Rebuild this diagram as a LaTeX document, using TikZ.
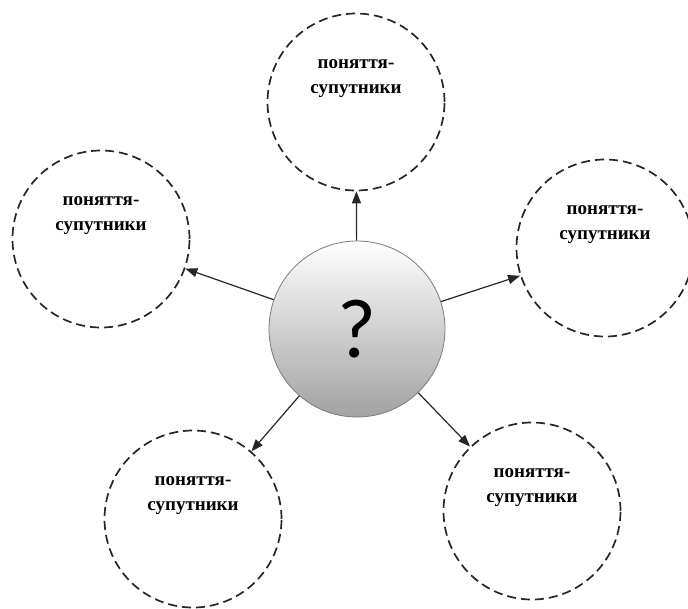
\documentclass[tikz,border=0pt]{standalone}
\usepackage{fontspec}
\setmainfont{Liberation Serif}
\newfontfamily\qfont{Carlito}
\usetikzlibrary{arrows.meta}
\definecolor{hubStroke}{HTML}{7A7A7A}
\definecolor{hubTop}{HTML}{FFFFFF}
\definecolor{hubBottom}{HTML}{A2A2A2}

\begin{document}
\begin{tikzpicture}[
  x=1pt,y=-1pt,>={Triangle[length=12pt,width=9pt]},
  hub/.style={circle,draw=hubStroke,line width=.8pt,top color=hubTop,bottom color=hubBottom,minimum size=176pt,inner sep=0pt,font=\qfont\fontsize{84}{84}\selectfont},
  sat/.style={circle,draw=black!85,line width=1.7pt,dash pattern=on 9pt off 5pt,minimum size=177pt,inner sep=0pt},
  satText/.style={font=\bfseries\fontsize{19}{25}\selectfont,align=center,yshift=23pt},
  edge/.style={->,line width=1.2pt,draw=black!85}
]
\useasboundingbox (0,0) rectangle (688,608);
% the central question with its five companion notions around it
\node[hub] (question) at (357,329) {?};
\node[sat] (top) at (356,102) {};
\node[sat] (left) at (101,239) {};
\node[sat] (right) at (605,248) {};
\node[sat] (lowLeft) at (193,519) {};
\node[sat] (lowRight) at (532,511) {};
\node[satText] (topText) at (top.center) {поняття-\\супутники};
\node[satText] (leftText) at (left.center) {поняття-\\супутники};
\node[satText] (rightText) at (right.center) {поняття-\\супутники};
\node[satText] (lowLeftText) at (lowLeft.center) {поняття-\\супутники};
\node[satText] (lowRightText) at (lowRight.center) {поняття-\\супутники};
\draw[edge] (question) -- (top);
\draw[edge] (question) -- (left);
\draw[edge] (question) -- (right);
\draw[edge] (question) -- (lowLeft);
\draw[edge] (question) -- (lowRight);
\end{tikzpicture}
\end{document}
